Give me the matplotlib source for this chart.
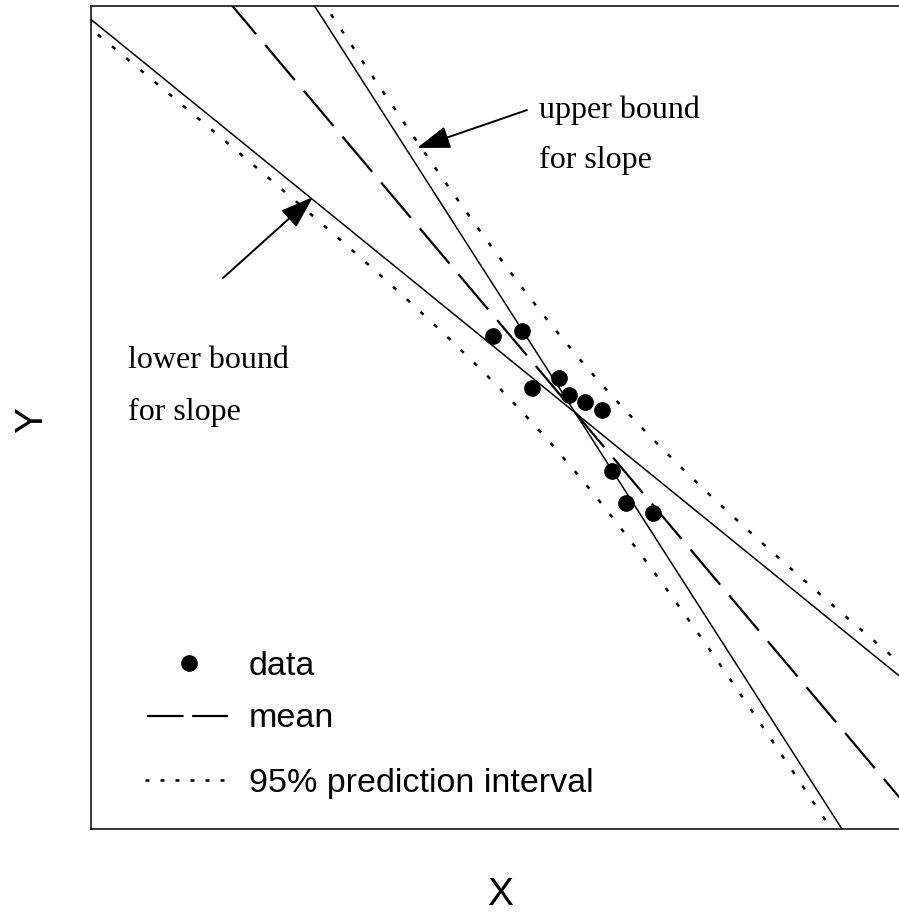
import numpy as np
import matplotlib
matplotlib.use("Agg")
import matplotlib.pyplot as plt
from matplotlib.lines import Line2D

# observations
x_obs = [4.905, 5.262, 5.385, 5.711, 5.836, 6.032, 6.239, 6.358, 6.529, 6.858]
y_obs = [5.990, 6.051, 5.358, 5.484, 5.273, 5.188, 5.091, 4.350, 3.961, 3.840]

# two-sided 95% Student t quantile for n - 2 = 8 degrees of freedom
T_975_DF8 = 2.306

legend_labels = ["data", "mean", "95% prediction interval"]
note_upper = ["upper bound", "for slope"]
note_lower = ["lower bound", "for slope"]

# ---- least-squares fit -------------------------------------------------
x = np.asarray(x_obs)
y = np.asarray(y_obs)
n = x.size
xbar, ybar = x.mean(), y.mean()
sxx = np.sum((x - xbar) ** 2)
slope = np.sum((x - xbar) * (y - ybar)) / sxx
intercept = ybar - slope * xbar
resid = y - (intercept + slope * x)
s = np.sqrt(np.sum(resid ** 2) / (n - 2))
se_slope = s / np.sqrt(sxx)
slope_lo = slope - T_975_DF8 * se_slope
slope_hi = slope + T_975_DF8 * se_slope

xlim = (0.0, 10.0)
ylim = (0.0, 10.0)
xx = np.linspace(-1, 11, 600)
fit = intercept + slope * xx
half = T_975_DF8 * s * np.sqrt(1 + 1 / n + (xx - xbar) ** 2 / sxx)

# ---- figure --------------------------------------------------------------
fig = plt.figure(figsize=(8.99, 9.14), dpi=100)
ax = fig.add_axes([91 / 899, 85 / 914, 819 / 899, 823 / 914])
ax.set_xlim(*xlim)
ax.set_ylim(*ylim)
ax.set_xticks([])
ax.set_yticks([])
for sp in ax.spines.values():
    sp.set_linewidth(1.1)

dash_mean = (20.7, 6.3)
dot_pi = (1.7, 5.7)

# slope bounds pivot on the centroid
ax.plot(xx, ybar + slope_lo * (xx - xbar), color="black", lw=1.1)
ax.plot(xx, ybar + slope_hi * (xx - xbar), color="black", lw=1.1)
ax.plot(xx, fit, color="black", lw=1.6, dashes=dash_mean)
ax.plot(xx, fit + half, color="black", lw=1.8, dashes=dot_pi)
ax.plot(xx, fit - half, color="black", lw=1.8, dashes=dot_pi)
ax.plot(x, y, "o", color="black", ms=11, zorder=5)

# ---- notes with arrows ---------------------------------------------------
serif = dict(family="Liberation Serif", fontsize=23, color="black")
arrow = dict(arrowstyle="-|>,head_length=0.41,head_width=0.14",
             color="black", lw=1.4, shrinkA=0, shrinkB=0, mutation_scale=50)

ax.annotate("", xy=(3.980, 8.275), xytext=(5.324, 8.736), arrowprops=arrow)
ax.text(5.470, 8.639, note_upper[0], ha="left", va="baseline", **serif)
ax.text(5.470, 8.032, note_upper[1], ha="left", va="baseline", **serif)

ax.annotate("", xy=(2.711, 7.679), xytext=(1.612, 6.695), arrowprops=arrow)
ax.text(0.452, 5.601, note_lower[0], ha="left", va="baseline", **serif)
ax.text(0.452, 4.970, note_lower[1], ha="left", va="baseline", **serif)

# ---- key -------------------------------------------------------------------
sans = dict(family="Liberation Sans", fontsize=24.5, color="black")
tr = ax.transAxes
ax.add_line(Line2D([0.1197], [0.2017], marker="o", ms=11, color="black",
                   ls="none", transform=tr))
ax.add_line(Line2D([0.0680, 0.1676], [0.1373, 0.1373], color="black", lw=1.6,
                   dashes=(16.5, 3.8), transform=tr))
ax.add_line(Line2D([0.0660, 0.1676], [0.0595, 0.0595], color="black", lw=1.8,
                   dashes=(1.6, 4.4), transform=tr))
for yb, lab in zip([0.1871, 0.1239, 0.0450], legend_labels):
    ax.text(0.1929, yb, lab, transform=tr, ha="left", va="baseline", **sans)

# ---- axis titles ---------------------------------------------------------
ax.set_xlabel("X", family="Liberation Sans", fontsize=28, va="center", ha="center")
ax.set_ylabel("Y", family="Liberation Sans", fontsize=28, va="center", ha="center")
ax.xaxis.set_label_coords(0.4994, -0.0800)
ax.yaxis.set_label_coords(-0.0720, 0.497)

fig.savefig("out.png", dpi=100)
